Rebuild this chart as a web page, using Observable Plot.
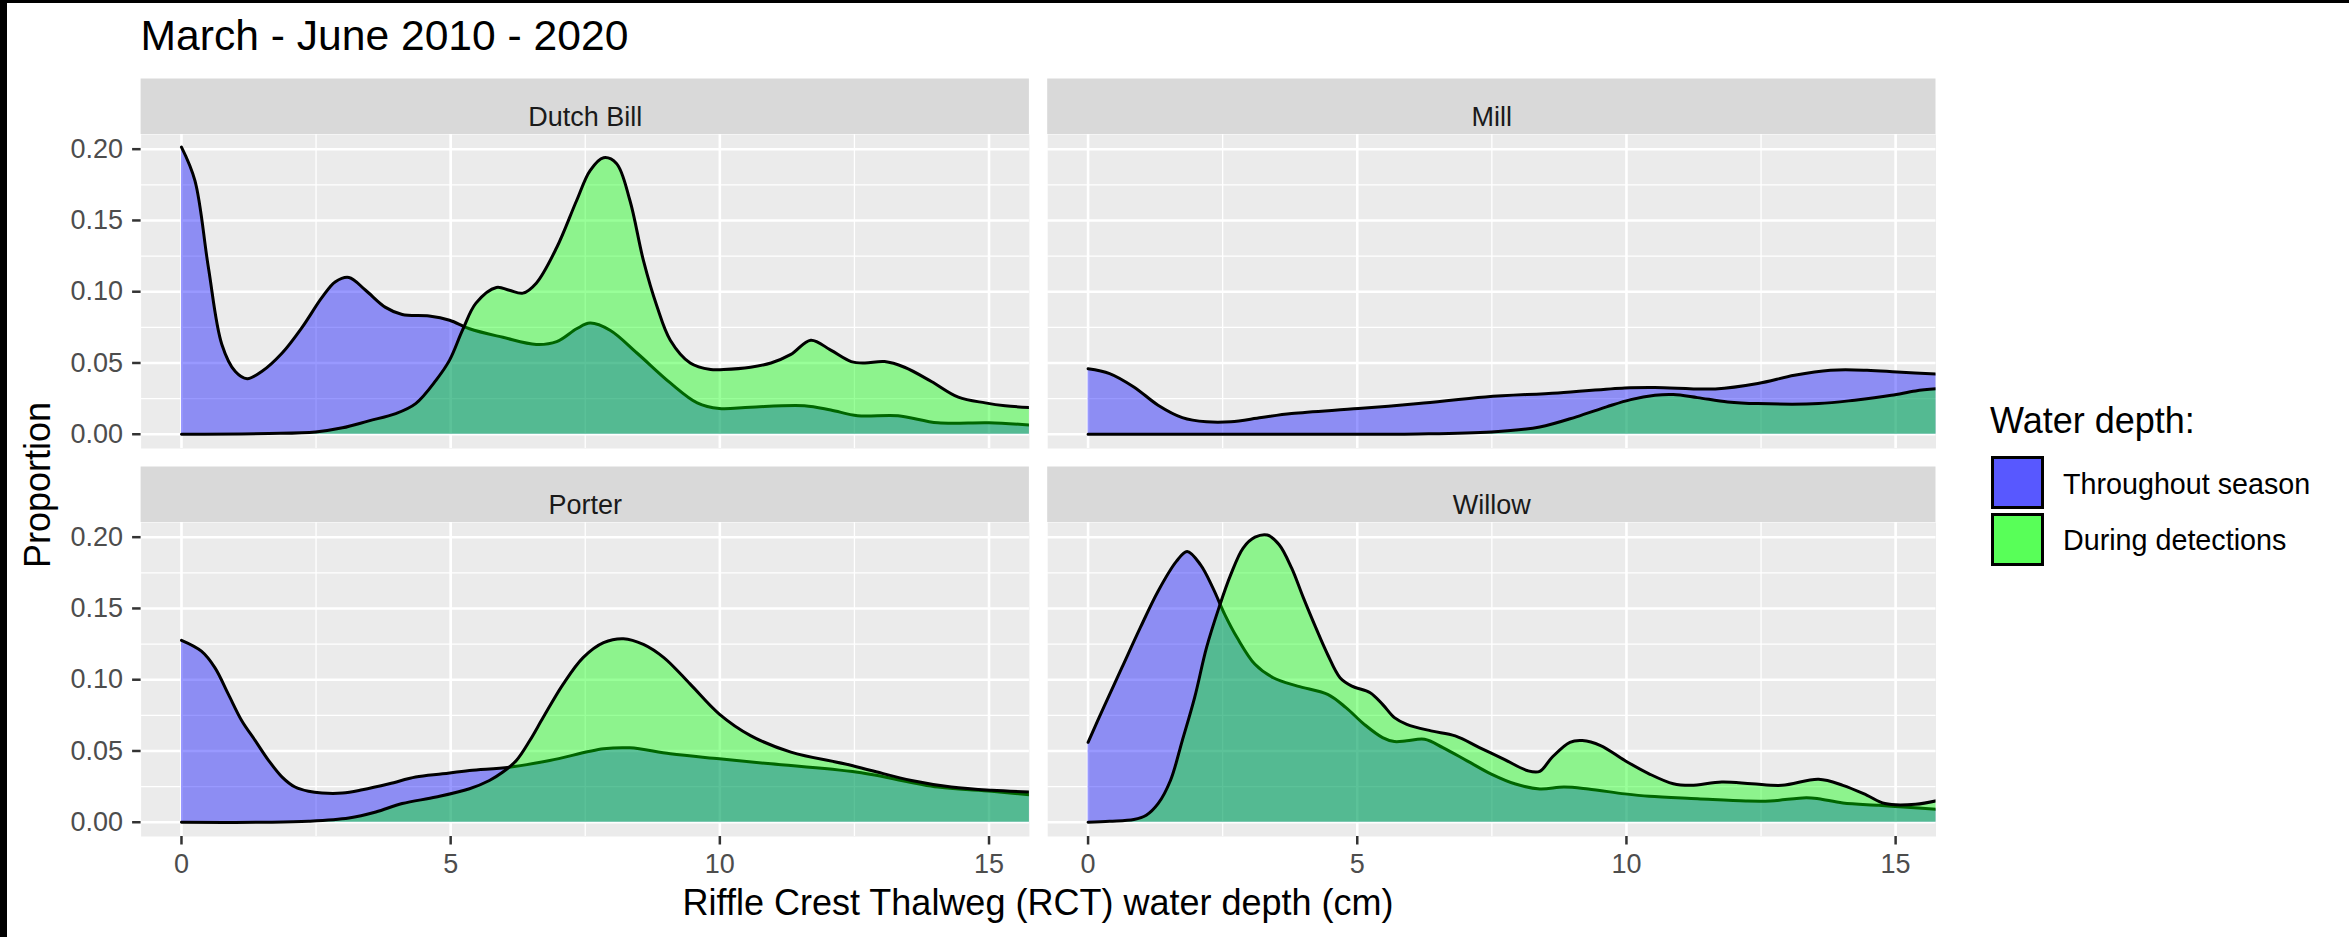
<!DOCTYPE html>
<html>
<head>
<meta charset="utf-8">
<script src="https://cdn.jsdelivr.net/npm/d3@7"></script>
<script src="https://cdn.jsdelivr.net/npm/@observablehq/plot@0.6"></script>
<style>
  html, body { margin: 0; padding: 0; background: #ffffff; }
  #wrap { position: relative; width: 2349px; height: 937px; overflow: hidden;
          font-family: "Liberation Sans", Arial, sans-serif; color: #000; }
  #chart { position: absolute; left: 0; top: 0; }
  .abs { position: absolute; white-space: nowrap; }
</style>
</head>
<body>
<div id="wrap">
  <div id="chart"></div>
</div>
<script>
// ---------- data ----------
const titleText = "March - June 2010 - 2020";
const xTitle = "Riffle Crest Thalweg (RCT) water depth (cm)";
const yTitle = "Proportion";
const legendTitle = "Water depth:";
const sites = ["Dutch Bill", "Mill", "Porter", "Willow"];
const seriesNames = ["Throughout season", "During detections"];
const xTicks = [0, 5, 10, 15];
const xMinor = [2.5, 7.5, 12.5];
const yTicks = [0, 0.05, 0.10, 0.15, 0.20];
const yMinor = [0.025, 0.075, 0.125, 0.175];

// [depth (cm), proportion]
const dutchBillSeason = [[0,0.2015],[0.25,0.178],[0.5,0.117],[0.75,0.063],[1.0,0.044],[1.22,0.039],[1.49,0.044],[1.87,0.057],[2.24,0.075],[2.61,0.096],[2.86,0.107],[3.11,0.110],[3.42,0.101],[3.79,0.089],[4.10,0.084],[4.60,0.083],[4.98,0.080],[5.35,0.074],[5.97,0.068],[6.59,0.063],[6.97,0.065],[7.34,0.074],[7.59,0.078],[7.96,0.073],[8.46,0.057],[9.08,0.036],[9.58,0.022],[9.99,0.018],[10.57,0.019],[11.57,0.020],[12.06,0.017],[12.56,0.013],[13.31,0.013],[14.05,0.008],[15.0,0.008],[15.8,0.0064]];
const dutchBillDetect = [[0,0],[1.62,0.0005],[2.49,0.0016],[2.99,0.0045],[3.48,0.0094],[3.98,0.0145],[4.35,0.0215],[4.73,0.038],[4.98,0.052],[5.22,0.073],[5.47,0.092],[5.85,0.103],[6.09,0.101],[6.34,0.099],[6.59,0.106],[6.97,0.131],[7.34,0.164],[7.59,0.185],[7.84,0.194],[8.08,0.190],[8.33,0.164],[8.58,0.122],[8.83,0.090],[9.08,0.066],[9.45,0.050],[9.83,0.0454],[10.07,0.0454],[10.57,0.047],[10.95,0.050],[11.32,0.056],[11.69,0.066],[12.06,0.059],[12.44,0.051],[12.69,0.050],[13.06,0.051],[13.43,0.047],[13.93,0.037],[14.43,0.026],[14.93,0.022],[15.30,0.020],[15.8,0.0187]];
const millSeason = [[0,0.046],[0.40,0.0426],[0.85,0.0332],[1.30,0.0204],[1.75,0.0117],[2.20,0.0087],[2.65,0.0087],[3.22,0.0117],[3.78,0.0145],[5.02,0.018],[6.14,0.0215],[7.38,0.0262],[8.73,0.0290],[9.97,0.0325],[10.53,0.0328],[11.65,0.0318],[12.44,0.0356],[13.12,0.0414],[13.79,0.0449],[14.47,0.0449],[15.03,0.0437],[15.8,0.0421]];
const millDetect = [[0,0],[3.0,0],[6.14,0.0002],[7.49,0.0016],[8.39,0.0051],[9.07,0.0122],[9.63,0.0192],[10.08,0.0243],[10.53,0.0273],[10.87,0.0278],[11.32,0.0257],[11.88,0.0227],[12.44,0.0215],[13.57,0.0215],[14.24,0.0239],[14.92,0.0273],[15.37,0.0304],[15.8,0.0320]];
const porterSeason = [[0,0.1276],[0.37,0.120],[0.62,0.1085],[0.87,0.0899],[1.12,0.0712],[1.37,0.0573],[1.62,0.0433],[1.87,0.0317],[2.11,0.0247],[2.36,0.0217],[2.61,0.0205],[2.99,0.0205],[3.36,0.0228],[3.86,0.0270],[4.35,0.0317],[4.85,0.0340],[5.35,0.0363],[6.09,0.0386],[6.84,0.0433],[7.84,0.0515],[8.33,0.0522],[9.08,0.048],[9.99,0.0445],[10.95,0.041],[12.56,0.035],[14.05,0.0247],[15.05,0.0217],[15.8,0.019]];
const porterDetect = [[0,0],[1.62,0],[2.36,0.0007],[3.11,0.003],[3.61,0.0072],[4.10,0.0131],[4.73,0.0177],[5.35,0.0235],[5.72,0.0293],[5.97,0.0352],[6.22,0.0433],[6.47,0.0573],[6.72,0.0736],[7.09,0.0969],[7.46,0.1155],[7.84,0.126],[8.21,0.1288],[8.58,0.1248],[8.96,0.1155],[9.45,0.0969],[9.99,0.0759],[10.57,0.0608],[11.32,0.0492],[12.31,0.041],[12.81,0.0363],[13.56,0.0293],[14.30,0.0247],[15.05,0.0224],[15.8,0.0212]];
const willowSeason = [[0,0.0561],[0.29,0.0806],[0.63,0.1086],[0.97,0.1365],[1.30,0.1621],[1.64,0.1830],[1.84,0.1900],[2.09,0.1806],[2.32,0.1643],[2.54,0.1457],[2.77,0.1294],[3.10,0.1108],[3.44,0.1014],[3.89,0.0955],[4.45,0.0897],[4.79,0.0804],[5.13,0.0687],[5.47,0.0594],[5.69,0.0566],[5.92,0.0571],[6.25,0.0582],[6.59,0.0524],[7.04,0.0431],[7.49,0.0338],[7.94,0.0268],[8.39,0.0233],[8.84,0.0247],[9.29,0.0233],[9.97,0.0199],[10.42,0.0182],[11.32,0.0165],[12.22,0.0149],[12.67,0.0149],[13.34,0.0172],[13.57,0.0165],[14.02,0.0135],[14.69,0.0119],[15.14,0.0107],[15.8,0.0089]];
const willowDetect = [[0,0],[0.40,0.0007],[0.85,0.0019],[1.08,0.0049],[1.30,0.0130],[1.53,0.0293],[1.75,0.0573],[1.98,0.0876],[2.20,0.1225],[2.43,0.1504],[2.65,0.1737],[2.88,0.1924],[3.10,0.2000],[3.33,0.2015],[3.55,0.1947],[3.78,0.1784],[4.00,0.1574],[4.23,0.1365],[4.45,0.1177],[4.68,0.1014],[4.90,0.0955],[5.24,0.0909],[5.47,0.0827],[5.69,0.0734],[5.92,0.0687],[6.37,0.0641],[6.82,0.0606],[7.27,0.0524],[7.72,0.0443],[8.17,0.0361],[8.39,0.0357],[8.62,0.0456],[8.95,0.0561],[9.18,0.0573],[9.52,0.0538],[9.97,0.0433],[10.42,0.0340],[10.87,0.0270],[11.20,0.0259],[11.77,0.0282],[12.33,0.0270],[12.89,0.0259],[13.57,0.0301],[14.02,0.0259],[14.47,0.0189],[14.80,0.0131],[15.37,0.0126],[15.8,0.0154]];

const seasonBySite = [dutchBillSeason, millSeason, porterSeason, willowSeason];
const detectBySite = [dutchBillDetect, millDetect, porterDetect, willowDetect];

// ---------- styles / layout ----------
const fills = ["#0000FF", "#00FF00"];
const legendFills = ["#5858FF", "#58FF58"];
const W = 2349, H = 937;
const panelLeft = 140.6, panelRight = 1935.5, panelTop = 134, panelBottom = 836;
const panelW = 888.3, panelH = 314, stripH = 55.5;
const xDomain = [-0.75, 15.75];
const yDomain = [-0.0100, 0.2103];
const stripUnits = stripH * (yDomain[1] - yDomain[0]) / panelH;
const font = '"Liberation Sans", Arial, sans-serif';

// ---------- tidy table ----------
const panels = sites.map((site, i) => ({site, col: i % 2, row: Math.floor(i / 2)}));
const rows = [];
panels.forEach((p, i) => {
  [seasonBySite[i], detectBySite[i]].forEach((arr, s) => {
    arr.forEach(([x, y]) => rows.push({site: p.site, col: p.col, row: p.row, series: seriesNames[s], x, y}));
  });
});
const bySeries = s => rows.filter(d => d.series === seriesNames[s]);

const colGap = panelRight - panelLeft - 2 * panelW;
const rowGap = panelBottom - panelTop - 2 * panelH;

const marks = [
  Plot.frame({fill: "#EBEBEB", stroke: null}),
  Plot.ruleX(xMinor, {stroke: "#FFFFFF", strokeWidth: 1.3}),
  Plot.ruleY(yMinor, {stroke: "#FFFFFF", strokeWidth: 1.3}),
  Plot.ruleX(xTicks, {stroke: "#FFFFFF", strokeWidth: 2.6}),
  Plot.ruleY(yTicks, {stroke: "#FFFFFF", strokeWidth: 2.6}),
  Plot.rect(panels, {fx: "col", fy: "row",
    x1: () => xDomain[0], x2: () => xDomain[1],
    y1: () => yDomain[1], y2: () => yDomain[1] + stripUnits,
    fill: "#D9D9D9"}),
  Plot.text(panels, {fx: "col", fy: "row", text: "site", frameAnchor: "top",
    dy: -stripH / 2, fontSize: 27, fill: "#1A1A1A"})
];
[0, 1].forEach(s => {
  marks.push(Plot.areaY(bySeries(s), {fx: "col", fy: "row", x: "x", y: "y",
    fill: fills[s], fillOpacity: 0.4, curve: "catmull-rom", clip: true}));
  marks.push(Plot.lineY(bySeries(s), {fx: "col", fy: "row", x: "x", y: "y",
    stroke: "#000000", strokeWidth: 3, curve: "catmull-rom", clip: true}));
});
marks.push(
  Plot.axisX({ticks: xTicks, facetAnchor: "bottom", anchor: "bottom", tickSize: 8.5, tickPadding: 8.5,
    fontSize: 27, fill: "#4D4D4D", stroke: "#333333", strokeWidth: 2.5, label: null, tickFormat: d => String(d)}),
  Plot.axisY({ticks: yTicks, facetAnchor: "left", anchor: "left", tickSize: 8.5, tickPadding: 9.5,
    fontSize: 27, fill: "#4D4D4D", stroke: "#333333", strokeWidth: 2.5, label: null, tickFormat: d3.format(".2f")})
);

const chart = Plot.plot({
  width: W, height: H,
  marginLeft: panelLeft, marginRight: W - panelRight, marginTop: panelTop, marginBottom: H - panelBottom,
  style: {fontFamily: font, background: "transparent", overflow: "visible"},
  fx: {domain: [0, 1], paddingInner: colGap / (panelW + colGap), paddingOuter: 0, round: false, axis: null, label: null},
  fy: {domain: [0, 1], paddingInner: rowGap / (panelH + rowGap), paddingOuter: 0, round: false, axis: null, label: null},
  x: {domain: xDomain},
  y: {domain: yDomain},
  marks
});
document.getElementById("chart").appendChild(chart);

// ---------- text and legend ----------
const wrap = document.getElementById("wrap");
function addText(text, left, baseline, size, extra = "") {
  const d = document.createElement("div");
  d.className = "abs";
  d.textContent = text;
  d.style.cssText += `left:${left}px;top:${baseline - 0.8465 * size}px;font-size:${size}px;line-height:${size}px;${extra}`;
  wrap.appendChild(d);
  return d;
}
addText(titleText, panelLeft, 50, 42.6);
addText(xTitle, panelLeft, 915, 36, `width:${panelRight - panelLeft}px;text-align:center;`);
{
  const size = 36, w = 400, cx = 50 - (0.8465 - 0.5) * size, cy = (panelTop + panelBottom) / 2;
  const d = document.createElement("div");
  d.className = "abs";
  d.textContent = yTitle;
  d.style.cssText += `left:${cx - w / 2}px;top:${cy - size / 2}px;width:${w}px;height:${size}px;font-size:${size}px;line-height:${size}px;text-align:center;transform:rotate(-90deg);`;
  wrap.appendChild(d);
}
addText(legendTitle, 1990, 433.3, 36);
seriesNames.forEach((name, s) => {
  const k = document.createElement("div");
  k.className = "abs";
  k.style.cssText += `left:1991px;top:${456 + s * 57}px;width:53px;height:53px;box-sizing:border-box;border:3px solid #000;background:${legendFills[s]};`;
  wrap.appendChild(k);
  addText(name, 2063, 494 + s * 56.5, 28.7);
});
const border = document.createElement("div");
border.className = "abs";
border.style.cssText += "left:0;top:0;width:2349px;height:937px;box-sizing:border-box;border-top:3px solid #000;border-left:7px solid #000;pointer-events:none;";
wrap.appendChild(border);
</script>
</body>
</html>
